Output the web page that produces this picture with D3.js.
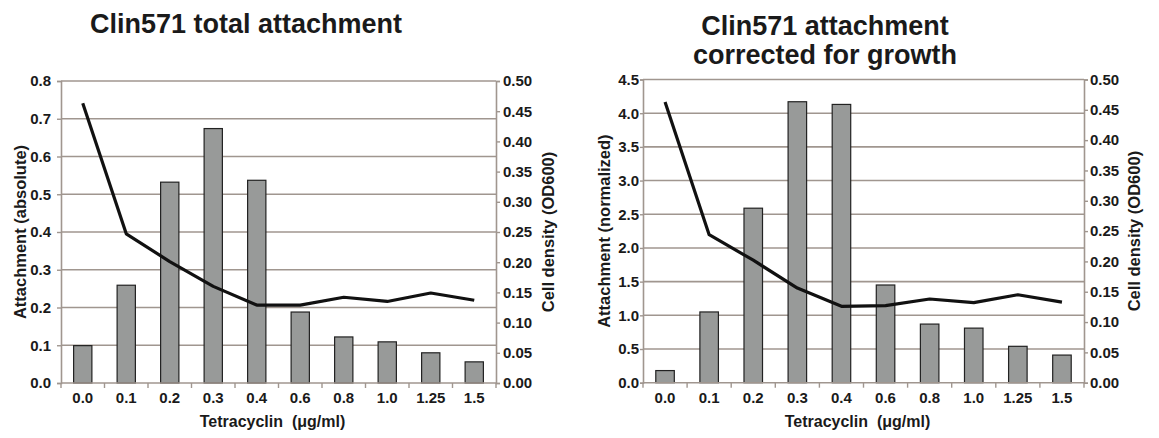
<!DOCTYPE html>
<html>
<head>
<meta charset="utf-8">
<script src="https://cdn.jsdelivr.net/npm/d3@7"></script>
<style>
  html, body { margin: 0; padding: 0; background: #fff; }
  svg { display: block; font-family: "Liberation Sans", Arial, sans-serif; }
</style>
</head>
<body>
<svg id="chart" width="1159" height="438"></svg>
<script>
const categories = ["0.0", "0.1", "0.2", "0.3", "0.4", "0.6", "0.8", "1.0", "1.25", "1.5"];
const totalAttachment = [0.099, 0.259, 0.532, 0.674, 0.537, 0.188, 0.122, 0.109, 0.080, 0.056];
const correctedAttachment = [0.18, 1.05, 2.59, 4.17, 4.13, 1.45, 0.87, 0.81, 0.54, 0.41];
const densityTotal = [0.463, 0.247, 0.201, 0.160, 0.129, 0.129, 0.142, 0.135, 0.149, 0.137];
const densityCorrected = [0.463, 0.244, 0.202, 0.156, 0.126, 0.127, 0.138, 0.132, 0.145, 0.133];
const leftTicksTotal = [0.0, 0.1, 0.2, 0.3, 0.4, 0.5, 0.6, 0.7, 0.8];
const leftTicksCorrected = [0.0, 0.5, 1.0, 1.5, 2.0, 2.5, 3.0, 3.5, 4.0, 4.5];
const rightTicks = [0.00, 0.05, 0.10, 0.15, 0.20, 0.25, 0.30, 0.35, 0.40, 0.45, 0.50];

const svg = d3.select("#chart");
const gridColor = "#a0968f";
const textColor = "#1a1a1a";

function drawChart(o) {
  const g = svg.append("g");
  const x = d3.scaleBand().domain(categories).range([o.x0, o.x1]).padding(0);
  const yL = d3.scaleLinear().domain([0, o.leftMax]).range([o.y1, o.y0]);
  const yR = d3.scaleLinear().domain([0, 0.5]).range([o.y1, o.y0]);

  // gridlines
  g.append("g").selectAll("line").data(o.leftTicks.slice(1)).join("line")
    .attr("x1", o.x0).attr("x2", o.x1)
    .attr("y1", d => yL(d)).attr("y2", d => yL(d))
    .attr("stroke", gridColor).attr("stroke-width", 1.6);

  // left axis
  const la = g.append("g").attr("transform", `translate(${o.x0},0)`)
    .call(d3.axisLeft(yL).tickValues(o.leftTicks).tickFormat(d3.format(".1f")).tickSize(o.leftTickSize).tickPadding(o.leftPad));
  la.select(".domain").attr("stroke", gridColor).attr("stroke-width", 1.6);
  la.selectAll(".tick line").attr("stroke", gridColor).attr("stroke-width", 1.4);
  la.selectAll("text").attr("font-size", 15).attr("font-weight", "bold").attr("fill", textColor);

  // right axis
  const ra = g.append("g").attr("transform", `translate(${o.x1},0)`)
    .call(d3.axisRight(yR).tickValues(rightTicks).tickFormat(d3.format(".2f")).tickSize(4).tickPadding(o.rightPad));
  ra.select(".domain").attr("stroke", gridColor).attr("stroke-width", 1.6);
  ra.selectAll(".tick line").attr("stroke", gridColor).attr("stroke-width", 1.4);
  ra.selectAll("text").attr("font-size", 15).attr("font-weight", "bold").attr("fill", textColor);

  // bars
  const bw = x.bandwidth() * 0.42;
  g.append("g").selectAll("rect").data(categories).join("rect")
    .attr("x", (d) => x(d) + (x.bandwidth() - bw) / 2)
    .attr("y", (d, i) => yL(o.bars[i]))
    .attr("width", bw)
    .attr("height", (d, i) => yL(0) - yL(o.bars[i]))
    .attr("fill", "#989a99").attr("stroke", "#222").attr("stroke-width", 1.2);

  // x axis
  const xa = g.append("g").attr("transform", `translate(0,${o.y1})`);
  xa.append("line").attr("x1", o.x0).attr("x2", o.x1).attr("y1", 0).attr("y2", 0)
    .attr("stroke", gridColor).attr("stroke-width", 1.6);
  const bounds = categories.map(c => x(c)).concat([o.x1]);
  xa.selectAll("line.tk").data(bounds).join("line").attr("class", "tk")
    .attr("x1", d => d).attr("x2", d => d).attr("y1", 0).attr("y2", 5)
    .attr("stroke", gridColor).attr("stroke-width", 1.4);
  xa.selectAll("text").data(categories).join("text")
    .attr("x", d => x(d) + x.bandwidth() / 2).attr("y", 20)
    .attr("text-anchor", "middle").attr("font-size", 15).attr("font-weight", "bold").attr("fill", textColor)
    .text(d => d);

  // line
  const line = d3.line().x((d, i) => x(categories[i]) + x.bandwidth() / 2).y(d => yR(d));
  g.append("path").datum(o.density).attr("d", line)
    .attr("fill", "none").attr("stroke", "#111").attr("stroke-width", 3.2).attr("stroke-linejoin", "round");

  // titles
  const ttl = g.append("text").attr("text-anchor", "middle").attr("font-size", 27).attr("font-weight", "bold").attr("fill", textColor);
  o.title.forEach((t, i) => {
    ttl.append("tspan").attr("x", o.titleX).attr("y", o.titleY + i * 28.5).text(t);
  });

  g.append("text").attr("transform", `translate(${o.lx},${(o.y0 + o.y1) / 2}) rotate(-90)`)
    .attr("text-anchor", "middle").attr("dy", "0.35em").attr("font-size", 16.5).attr("font-weight", "bold").attr("fill", textColor)
    .text(o.leftLabel);
  g.append("text").attr("transform", `translate(${o.rx},${(o.y0 + o.y1) / 2}) rotate(-90)`)
    .attr("text-anchor", "middle").attr("dy", "0.35em").attr("font-size", 16.5).attr("font-weight", "bold").attr("fill", textColor)
    .text("Cell density (OD600)");
  g.append("text").attr("x", (o.x0 + o.x1) / 2 - 6).attr("y", o.y1 + 44)
    .attr("text-anchor", "middle").attr("font-size", 16).attr("font-weight", "bold").attr("fill", textColor)
    .text("Tetracyclin\u00A0\u00A0(\u03BCg/ml)");
}

drawChart({
  x0: 61, x1: 496, y0: 81, y1: 383, leftMax: 0.8, leftTicks: leftTicksTotal,
  bars: totalAttachment, density: densityTotal, leftTickSize: 4, leftPad: 6, rightPad: 3,
  title: ["Clin571 total attachment"], titleX: 246, titleY: 33,
  leftLabel: "Attachment (absolute)", lx: 20, rx: 548
});
drawChart({
  x0: 643, x1: 1084, y0: 79.5, y1: 382.7, leftMax: 4.5, leftTicks: leftTicksCorrected,
  bars: correctedAttachment, density: densityCorrected, leftTickSize: 3, leftPad: 1, rightPad: 2,
  title: ["Clin571 attachment", "corrected for growth"], titleX: 825, titleY: 35,
  leftLabel: "Attachment (normalized)", lx: 604, rx: 1134
});
</script>
</body>
</html>
